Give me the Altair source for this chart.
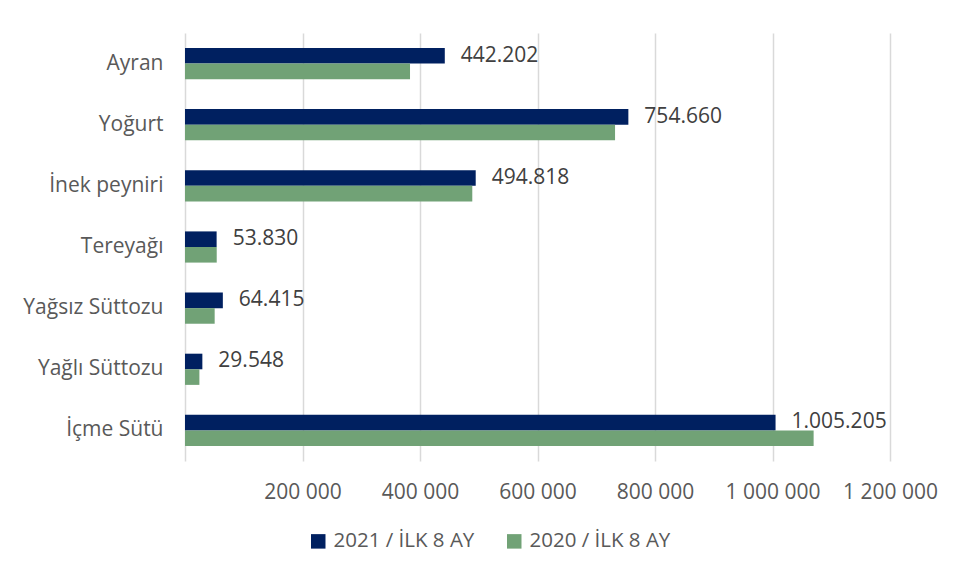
import altair as alt
import pandas as pd

categories = ["Ayran", "Yoğurt", "İnek peyniri", "Tereyağı", "Yağsız Süttozu", "Yağlı Süttozu", "İçme Sütü"]
series = ["2021 / İLK 8 AY", "2020 / İLK 8 AY"]
values_2021 = [442202, 754660, 494818, 53830, 64415, 29548, 1005205]
values_2020 = [383000, 732000, 489000, 54000, 50500, 24500, 1070000]
labels_2021 = ["442.202", "754.660", "494.818", "53.830", "64.415", "29.548", "1.005.205"]
x_ticks = [0, 200000, 400000, 600000, 800000, 1000000, 1200000]
colors = ["#002060", "#71A276"]

rows = []
for c, v in zip(categories, values_2021):
    rows.append({"cat": c, "series": series[0], "value": v})
for c, v in zip(categories, values_2020):
    rows.append({"cat": c, "series": series[1], "value": v})
df = pd.DataFrame(rows)
lab = pd.DataFrame({"cat": categories, "value": values_2021, "label": labels_2021})

FONT = "Open Sans"

yscale = alt.Scale(domain=categories, paddingInner=0.49, paddingOuter=0.245)
xscale = alt.Scale(domain=[0, 1200000], nice=False)

bars = alt.Chart(df).mark_bar(size=15.6).encode(
    y=alt.Y("cat:N", scale=yscale, sort=categories, title=None,
            axis=alt.Axis(ticks=False, domain=False, labelPadding=22, labelFontSize=21,
                          labelColor="#595959", labelFont=FONT, grid=False)),
    x=alt.X("value:Q", scale=xscale, title=None,
            axis=alt.Axis(values=x_ticks, grid=True, gridColor="#d9d9d9", gridWidth=1.5,
                          ticks=False, domain=False, labelPadding=20, labelFontSize=21,
                          labelColor="#595959", labelFont=FONT,
                          labelOverlap=False, labelFlush=False, labelBound=False,
                          labelExpr="datum.value == 0 ? '' : replace(replace(format(datum.value, ','), ',', ' '), ',', ' ')")),
    yOffset=alt.YOffset("series:N", sort=series, scale=alt.Scale(domain=series, paddingInner=0, paddingOuter=0)),
    color=alt.Color("series:N", sort=series,
                    scale=alt.Scale(domain=series, range=colors),
                    legend=alt.Legend(title=None, orient="none", legendX=123, legendY=498,
                                      direction="horizontal", symbolType="square",
                                      symbolSize=210, symbolStrokeWidth=0, labelFontSize=20.5,
                                      labelFont=FONT, labelColor="#595959", labelOffset=5,
                                      columnPadding=29)),
)

text = alt.Chart(lab).mark_text(align="left", baseline="middle", dx=16, dy=-8,
                                fontSize=21, font=FONT, color="#404040").encode(
    y=alt.Y("cat:N", scale=yscale, sort=categories),
    x=alt.X("value:Q", scale=xscale),
    text="label:N",
)

chart = alt.layer(bars, text).properties(
    width=705, height=428,
    autosize=alt.AutoSizeParams(type="none"),
    padding={"left": 177, "top": 25, "right": 50, "bottom": 100},
).configure_view(stroke=None)

chart.save("out.html", embed_options={"renderer": "svg", "actions": False})
